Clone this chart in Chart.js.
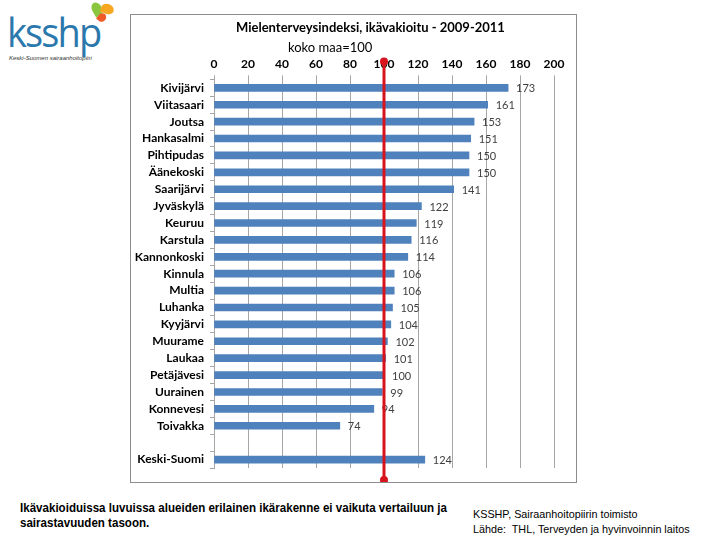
<!DOCTYPE html>
<html>
<head>
<meta charset="utf-8">
<script src="https://cdn.jsdelivr.net/npm/chart.js"></script>
<style>
  body { margin: 0; background: #fff; width: 720px; height: 540px; position: relative; overflow: hidden; font-family: "Liberation Sans", Arial, sans-serif; }
  #frame { position: absolute; left: 130px; top: 14px; width: 445px; height: 467px; border: 1px solid #8c8c8c; }
  #chart-wrap { position: absolute; left: 0; top: 0; width: 445px; height: 467px; }
  .title { position: absolute; font-family: Lato, "Open Sans", sans-serif; font-weight: bold; color: #000; white-space: nowrap; }
  .logo { position: absolute; left: 7px; top: 12px; font-family: "Open Sans", Lato, sans-serif; font-size: 40px; color: #2b78ad; letter-spacing: -2px; line-height: 40px; transform: scaleX(0.95); transform-origin: left top; }
  .logo-sub { position: absolute; left: 9px; top: 55px; font-size: 6px; font-style: italic; color: #333; white-space: nowrap; }
  .wing { position: absolute; border-radius: 50% 50% 50% 0; }
  .note { position: absolute; font-family: "Liberation Sans Narrow", "Liberation Sans", sans-serif; white-space: nowrap; transform-origin: left top; }
</style>
</head>
<body>
<div class="logo">ksshp</div>
<div class="wing" style="left:92px;top:2px;width:10px;height:14px;background:#8cc63f;transform:rotate(-30deg);"></div>
<div class="wing" style="left:101px;top:4px;width:13px;height:10px;background:#f7a823;transform:rotate(20deg);"></div>
<div class="wing" style="left:98px;top:13px;width:8px;height:9px;background:#f05a28;transform:rotate(40deg);"></div>
<div class="logo-sub">Keski-Suomen sairaanhoitopiiri</div>

<div id="frame">
  <div id="chart-wrap"><canvas id="chart"></canvas></div>
  <div class="title" style="left:105px;top:4px;font-size:13px;">Mielenterveysindeksi, ikävakioitu - 2009-2011</div>
  <div class="title" style="left:157px;top:24px;font-size:13px;font-weight:normal;">koko maa=100</div>
</div>

<div class="note" style="left:20px;top:500px;font-size:13px;font-weight:bold;line-height:15px;transform:scaleX(0.89);">Ikävakioiduissa luvuissa alueiden erilainen ikärakenne ei vaikuta vertailuun ja<br>sairastavuuden tasoon.</div>
<div class="note" style="left:473px;top:507px;font-size:11px;line-height:15px;transform:scaleX(0.98);">KSSHP, Sairaanhoitopiirin toimisto<br>Lähde:&nbsp; THL, Terveyden ja hyvinvoinnin laitos</div>

<script>
const regions = ['Kivijärvi', 'Viitasaari', 'Joutsa', 'Hankasalmi', 'Pihtipudas', 'Äänekoski', 'Saarijärvi',
    'Jyväskylä', 'Keuruu', 'Karstula', 'Kannonkoski', 'Kinnula', 'Multia', 'Luhanka', 'Kyyjärvi',
    'Muurame', 'Laukaa', 'Petäjävesi', 'Uurainen', 'Konnevesi', 'Toivakka', '', 'Keski-Suomi'];
const indexValues = [173, 161, 153, 151, 150, 150, 141, 122, 119, 116, 114, 106, 106, 105, 104,
    102, 101, 100, 99, 94, 74, null, 124];
const referenceValue = 100;
const xTicks = [0, 20, 40, 60, 80, 100, 120, 140, 160, 180, 200];

const valueLabels = {
    id: 'valueLabels',
    afterDatasetsDraw(chart) {
        const ctx = chart.ctx;
        const meta = chart.getDatasetMeta(0);
        ctx.save();
        ctx.font = '11px Lato, "Open Sans", sans-serif';
        ctx.fillStyle = '#404040';
        ctx.textBaseline = 'middle';
        meta.data.forEach((bar, i) => {
            const v = indexValues[i];
            if (v == null) return;
            ctx.fillText(String(v), bar.x + 8, bar.y + 1);
        });
        ctx.restore();
    }
};

const refLine = {
    id: 'refLine',
    afterDatasetsDraw(chart) {
        const ctx = chart.ctx;
        const x = chart.scales.x.getPixelForValue(referenceValue);
        const top = chart.chartArea.top - 18;
        const bottom = chart.height - 2;
        ctx.save();
        ctx.strokeStyle = '#d7141d';
        ctx.fillStyle = '#d7141d';
        ctx.lineWidth = 3;
        ctx.beginPath();
        ctx.moveTo(x, top);
        ctx.lineTo(x, bottom);
        ctx.stroke();
        [top, bottom].forEach(y => {
            ctx.beginPath();
            ctx.arc(x, y, 4, 0, Math.PI * 2);
            ctx.fill();
        });
        ctx.restore();
    }
};

new Chart(document.getElementById('chart'), {
    type: 'bar',
    data: {
        labels: regions,
        datasets: [{
            data: indexValues,
            backgroundColor: '#4f81bd',
            barThickness: 7
        }]
    },
    plugins: [valueLabels, refLine],
    options: {
        indexAxis: 'y',
        responsive: true,
        maintainAspectRatio: false,
        animation: false,
        layout: { padding: { top: 38, right: 22, bottom: 14, left: 0 } },
        plugins: { legend: { display: false }, tooltip: { enabled: false } },
        scales: {
            x: {
                position: 'top',
                min: 0,
                max: 200,
                afterBuildTicks(axis) { axis.ticks = xTicks.map(v => ({ value: v })); },
                grid: { color: '#a6a6a6', lineWidth: 1, tickLength: 4 },
                border: { display: false },
                ticks: {
                    color: '#000',
                    font: { family: 'Lato, "Open Sans", sans-serif', size: 12, weight: 'bold' },
                    padding: 4
                }
            },
            y: {
                grid: { display: true, drawOnChartArea: false, offset: true, color: '#a6a6a6', tickLength: 4 },
                border: { display: true, color: '#a6a6a6' },
                afterFit(axis) { axis.width = 83; },
                ticks: {
                    autoSkip: false,
                    color: '#000',
                    font: { family: 'Lato, "Open Sans", sans-serif', size: 12, weight: 'bold' },
                    padding: 6
                }
            }
        }
    }
});
</script>
</body>
</html>
